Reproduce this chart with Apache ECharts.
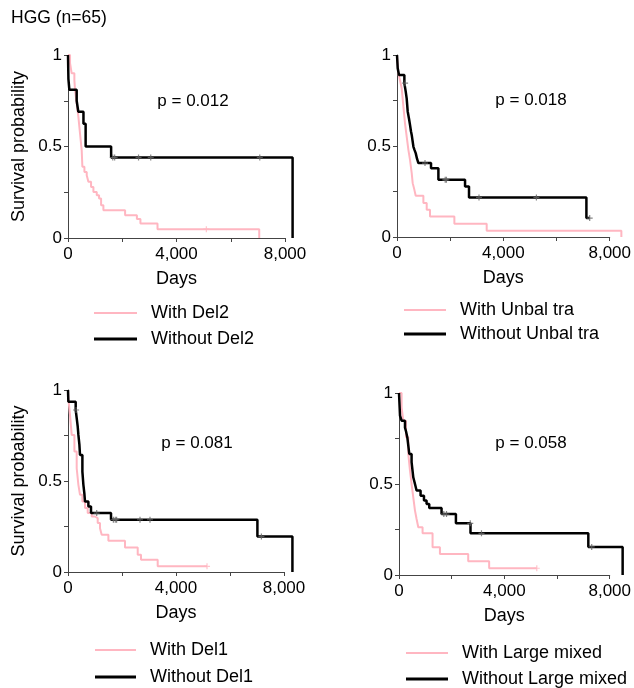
<!DOCTYPE html>
<html>
<head>
<meta charset="utf-8">
<script src="https://cdn.jsdelivr.net/npm/echarts@6/dist/echarts.min.js"></script>
<style>
  html, body { margin: 0; padding: 0; background: #fff; }
  #main { width: 634px; height: 688px; }
</style>
</head>
<body>
<div id="main"></div>
<script>
// Kaplan-Meier curves, [days, survival]
var del2With = [[0,1],[75,0.955],[136,0.9],[235,0.863],[260,0.808],[320,0.735],[383,0.662],[443,0.571],[505,0.48],[530,0.389],[605,0.361],[690,0.343],[752,0.307],[850,0.279],[937,0.252],[1060,0.234],[1145,0.216],[1220,0.179],[1305,0.152],[2105,0.124],[2540,0.104],[2670,0.079],[3300,0.048],[7050,0]]
var del2Without = [[0,1],[15,0.87],[50,0.81],[320,0.75],[380,0.69],[570,0.625],[650,0.5],[1590,0.44],[8280,0]]
var del2Censor = [[1650,0.44],[1720,0.44],[2600,0.44],[3050,0.44],[7070,0.44]]
var del2WithCensor = [[5100,0.048]]

var unbalWith = [[0,1],[50,0.9],[111,0.86],[174,0.817],[237,0.716],[296,0.625],[359,0.552],[422,0.479],[482,0.424],[545,0.351],[581,0.296],[644,0.259],[693,0.227],[977,0.187],[1100,0.15],[1222,0.113],[2125,0.073],[3322,0.035],[8310,0]]
var unbalWithout = [[0,1],[26,0.927],[74,0.89],[273,0.845],[322,0.8],[359,0.76],[396,0.69],[445,0.65],[482,0.616],[519,0.58],[545,0.561],[607,0.497],[644,0.48],[693,0.461],[741,0.43],[792,0.406],[1260,0.378],[1533,0.314],[2520,0.278],[2667,0.217],[7015,0.104],[7137,0.104]]
var unbalCensor = [[300,0.845],[1037,0.406],[1785,0.314],[1830,0.314],[3037,0.217],[5163,0.217],[7137,0.104]]
var unbalWithCensor = []

var del1With = [[0,1],[13,0.954],[74,0.863],[137,0.753],[237,0.662],[322,0.57],[385,0.479],[445,0.424],[533,0.387],[630,0.351],[730,0.324],[878,0.305],[1000,0.296],[1100,0.269],[1185,0.241],[1248,0.205],[1496,0.172],[2111,0.135],[2582,0.095],[2704,0.067],[3322,0.031],[5149,0.031]]
var del1Without = [[0,1],[13,0.936],[285,0.89],[322,0.845],[359,0.8],[385,0.753],[422,0.7],[445,0.643],[533,0.552],[570,0.479],[607,0.43],[630,0.387],[755,0.36],[852,0.324],[1593,0.287],[7015,0.195],[8312,0]]
var del1Censor = [[300,0.89],[1063,0.324],[1680,0.287],[1750,0.287],[1800,0.287],[2667,0.287],[3037,0.287],[7163,0.195]]
var del1WithCensor = [[5149,0.031]]

var largeWith = [[0,1],[96,0.921],[159,0.848],[259,0.757],[344,0.665],[407,0.574],[466,0.5],[529,0.427],[592,0.354],[651,0.308],[714,0.262],[873,0.229],[1243,0.152],[1516,0.115],[2563,0.075],[3339,0.037],[5103,0.037]]
var largeWithout = [[0,1],[37,0.876],[96,0.848],[222,0.81],[259,0.79],[307,0.757],[381,0.665],[466,0.62],[529,0.537],[592,0.5],[651,0.464],[799,0.436],[925,0.409],[1021,0.39],[1120,0.368],[1576,0.335],[2108,0.284],[2648,0.229],[7012,0.154],[8283,0]]
var largeCensor = [[1660,0.335],[1760,0.335],[2640,0.284],[3055,0.229],[7137,0.154]]
var largeWithCensor = [[5103,0.037]]

var withNames = ['With Del2', 'With Unbal tra', 'With Del1', 'With Large mixed']
var withoutNames = ['Without Del2', 'Without Unbal tra', 'Without Del1', 'Without Large mixed']
var pValues = ['p = 0.012', 'p = 0.018', 'p = 0.081', 'p = 0.058']

var font = 'Liberation Sans, Arial, sans-serif'
var pink = '#ffb6c1'
var axisMax = 8000
var dataMax = 8400  // curves run a little past the last axis tick

var panels = [
    { grid: [68, 55, 217, 183], legend: [94, 313, 339, 43], p: [193, 101], yName: true,
      w: del2With, wo: del2Without, c: del2Censor, wc: del2WithCensor },
    { grid: [397, 55, 216, 182], legend: [404, 310, 334, 42], p: [531, 100], yName: false,
      w: unbalWith, wo: unbalWithout, c: unbalCensor, wc: unbalWithCensor },
    { grid: [68, 390, 216, 182], legend: [95, 650, 677, 41], p: [197, 443], yName: true,
      w: del1With, wo: del1Without, c: del1Censor, wc: del1WithCensor },
    { grid: [399, 393, 216, 182], legend: [406, 653, 679, 42], p: [531, 443], yName: false,
      w: largeWith, wo: largeWithout, c: largeCensor, wc: largeWithCensor }
]

var censorSymbol = 'path://M4,0h2v10h-2zM0,4h10v2h-10z'

var grids = [], xAxes = [], yAxes = [], series = [], legends = [], texts = []
panels.forEach(function (pn, i) {
    var g = pn.grid
    // visible axes
    grids.push({ left: g[0], top: g[1], width: g[2], height: g[3] })
    // data layer, same scale but wider so the curves are not cut at 8,000
    grids.push({ left: g[0], top: g[1], width: g[2] * dataMax / axisMax, height: g[3] })
    var ai = 2 * i, di = 2 * i + 1
    xAxes.push({
        gridIndex: ai, type: 'value', min: 0, max: axisMax, interval: 2000,
        name: 'Days', nameLocation: 'middle', nameGap: 32,
        nameTextStyle: { fontFamily: font, fontSize: 18, color: '#000' },
        axisLine: { lineStyle: { color: '#444' } },
        axisTick: { length: 4, lineStyle: { color: '#444' } },
        splitLine: { show: false },
        axisLabel: {
            margin: 8, fontFamily: font, fontSize: 17, color: '#000',
            formatter: function (v) { return v % 4000 === 0 ? v.toLocaleString('en-US') : '' }
        }
    })
    xAxes.push({ gridIndex: di, type: 'value', min: 0, max: dataMax, show: false })
    yAxes.push({
        gridIndex: ai, type: 'value', min: 0, max: 1, interval: 0.25,
        name: pn.yName ? 'Survival probability' : '', nameLocation: 'middle', nameGap: 40,
        nameTextStyle: { fontFamily: font, fontSize: 18, color: '#000' },
        axisLine: { show: true, lineStyle: { color: '#444' } },
        axisTick: { show: true, length: 4, lineStyle: { color: '#444' } },
        splitLine: { show: false },
        axisLabel: {
            margin: 6, fontFamily: font, fontSize: 17, color: '#000',
            formatter: function (v) { return (v === 0.25 || v === 0.75) ? '' : String(v) }
        }
    })
    yAxes.push({ gridIndex: di, type: 'value', min: 0, max: 1, show: false })
    series.push({
        name: withNames[i], type: 'line', step: 'end', xAxisIndex: di, yAxisIndex: di,
        data: pn.w, symbol: 'none', color: pink,
        lineStyle: { color: pink, width: 2 }
    })
    series.push({
        name: withoutNames[i], type: 'line', step: 'end', xAxisIndex: di, yAxisIndex: di,
        data: pn.wo, symbol: 'none', color: '#000',
        lineStyle: { color: '#000', width: 2.5 }, z: 3
    })
    series.push({
        type: 'scatter', xAxisIndex: di, yAxisIndex: di, data: pn.c,
        symbol: censorSymbol, symbolSize: 6, itemStyle: { color: '#666' }, z: 4
    })
    series.push({
        type: 'scatter', xAxisIndex: di, yAxisIndex: di, data: pn.wc,
        symbol: censorSymbol, symbolSize: 6, itemStyle: { color: pink }, z: 4
    })
    var items = [[withNames[i], pn.legend[1], pink, 2], [withoutNames[i], pn.legend[2], '#000', 3]]
    items.forEach(function (it) {
        legends.push({
            data: [it[0]], left: pn.legend[0], top: it[1] - 9, padding: 0,
            icon: 'rect', itemWidth: pn.legend[3], itemHeight: it[3],
            itemStyle: { color: it[2] }, selectedMode: false,
            textStyle: { fontFamily: font, fontSize: 18, color: '#000', lineHeight: 18, padding: [0, 0, 0, 9] }
        })
    })
    texts.push({
        type: 'text', x: pn.p[0], y: pn.p[1],
        style: { text: pValues[i], font: '17px ' + font, fill: '#000', textAlign: 'center', textVerticalAlign: 'middle' }
    })
})

texts.push({
    type: 'text', x: 11, y: 18,
    style: { text: 'HGG (n=65)', font: '17.5px ' + font, fill: '#000', textVerticalAlign: 'middle' }
})

var chart = echarts.init(document.getElementById('main'))
chart.setOption({
    animation: false,
    backgroundColor: '#fff',
    grid: grids,
    xAxis: xAxes,
    yAxis: yAxes,
    legend: legends,
    series: series,
    graphic: texts
})
</script>
</body>
</html>
